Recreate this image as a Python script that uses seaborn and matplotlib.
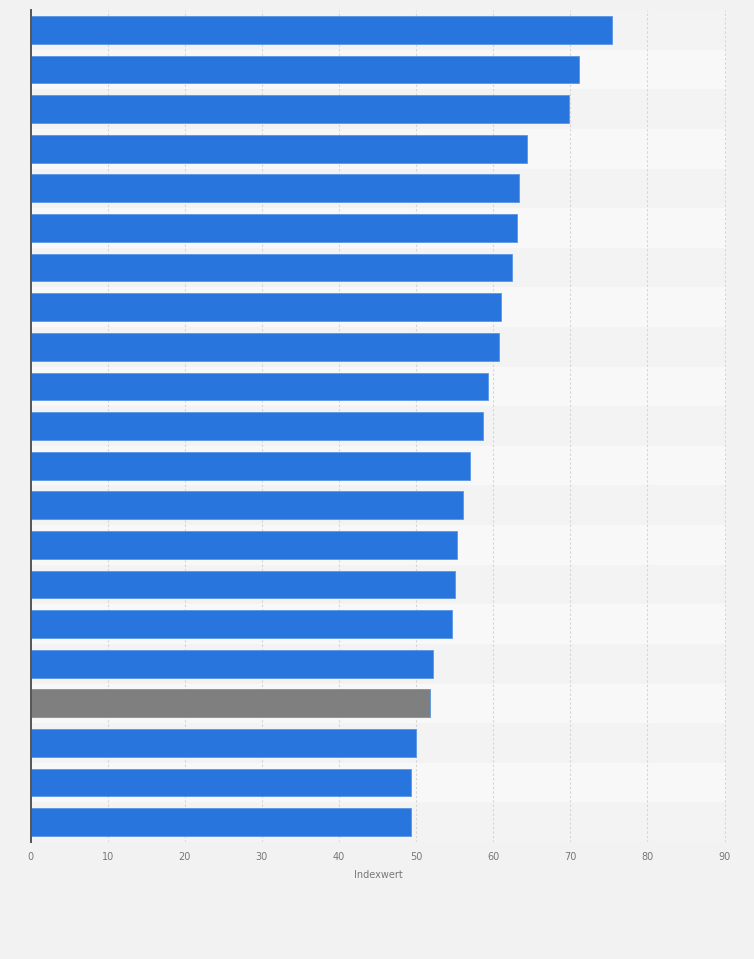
import pandas as pd
import seaborn as sns
import matplotlib.pyplot as plt

# Data (categories carry no visible labels)
ranks = [str(i) for i in range(1, 22)]
index_values = [75.4, 71.1, 69.8, 64.4, 63.4, 63.1, 62.4, 61.0, 60.7, 59.3,
                58.7, 57.0, 56.1, 55.3, 55.0, 54.6, 52.2, 51.8, 50.0, 49.4, 49.3]
highlight = [False] * 17 + [True] + [False] * 3
x_ticks = [0, 10, 20, 30, 40, 50, 60, 70, 80, 90]

df = pd.DataFrame({'Rang': ranks, 'Indexwert': index_values})
palette = {r: ('#7f7f7f' if h else '#2876dd') for r, h in zip(ranks, highlight)}

sns.set_theme(style='white')
plt.rcParams['font.family'] = ['DejaVu Sans']

fig = plt.figure(figsize=(7.54, 9.59), dpi=100, facecolor='#f2f2f2')
ax = fig.add_axes([0.0405, 0.122, 0.9225, 0.8675])
ax.set_facecolor('#f3f3f3')

# alternating row bands
for i in range(len(ranks)):
    ax.axhspan(i - 0.5, i + 0.5, color='#f3f3f3' if i % 2 == 0 else '#f8f8f8',
               zorder=0, lw=0)

sns.barplot(data=df, x='Indexwert', y='Rang', hue='Rang', palette=palette,
            legend=False, orient='h', width=0.7, saturation=1,
            edgecolor='#5a96e6', linewidth=0.6, ax=ax, zorder=3)
for patch, h in zip(ax.patches, highlight):
    if h:
        patch.set_edgecolor('#9a9a9a')

ax.set_xlim(0, 90.2)
ax.set_ylim(len(ranks) - 0.5, -0.5)
ax.set_xticks(x_ticks)
ax.set_xticklabels([str(t) for t in x_ticks], fontsize=7, color='#777777')
ax.tick_params(axis='x', length=0, pad=7)
ax.set_yticks([])
ax.set_ylabel('')
ax.set_xlabel('Indexwert', fontsize=7, color='#777777', labelpad=6)

ax.grid(axis='x', color='#d5d5d5', linestyle=(0, (2, 2)), linewidth=0.8, zorder=1)
ax.set_axisbelow(True)

for side in ['top', 'right', 'bottom']:
    ax.spines[side].set_visible(False)
ax.spines['left'].set_color('#555555')
ax.spines['left'].set_linewidth(1.4)
ax.spines['left'].set_zorder(5)

fig.savefig('out.png', dpi=100, facecolor=fig.get_facecolor())
